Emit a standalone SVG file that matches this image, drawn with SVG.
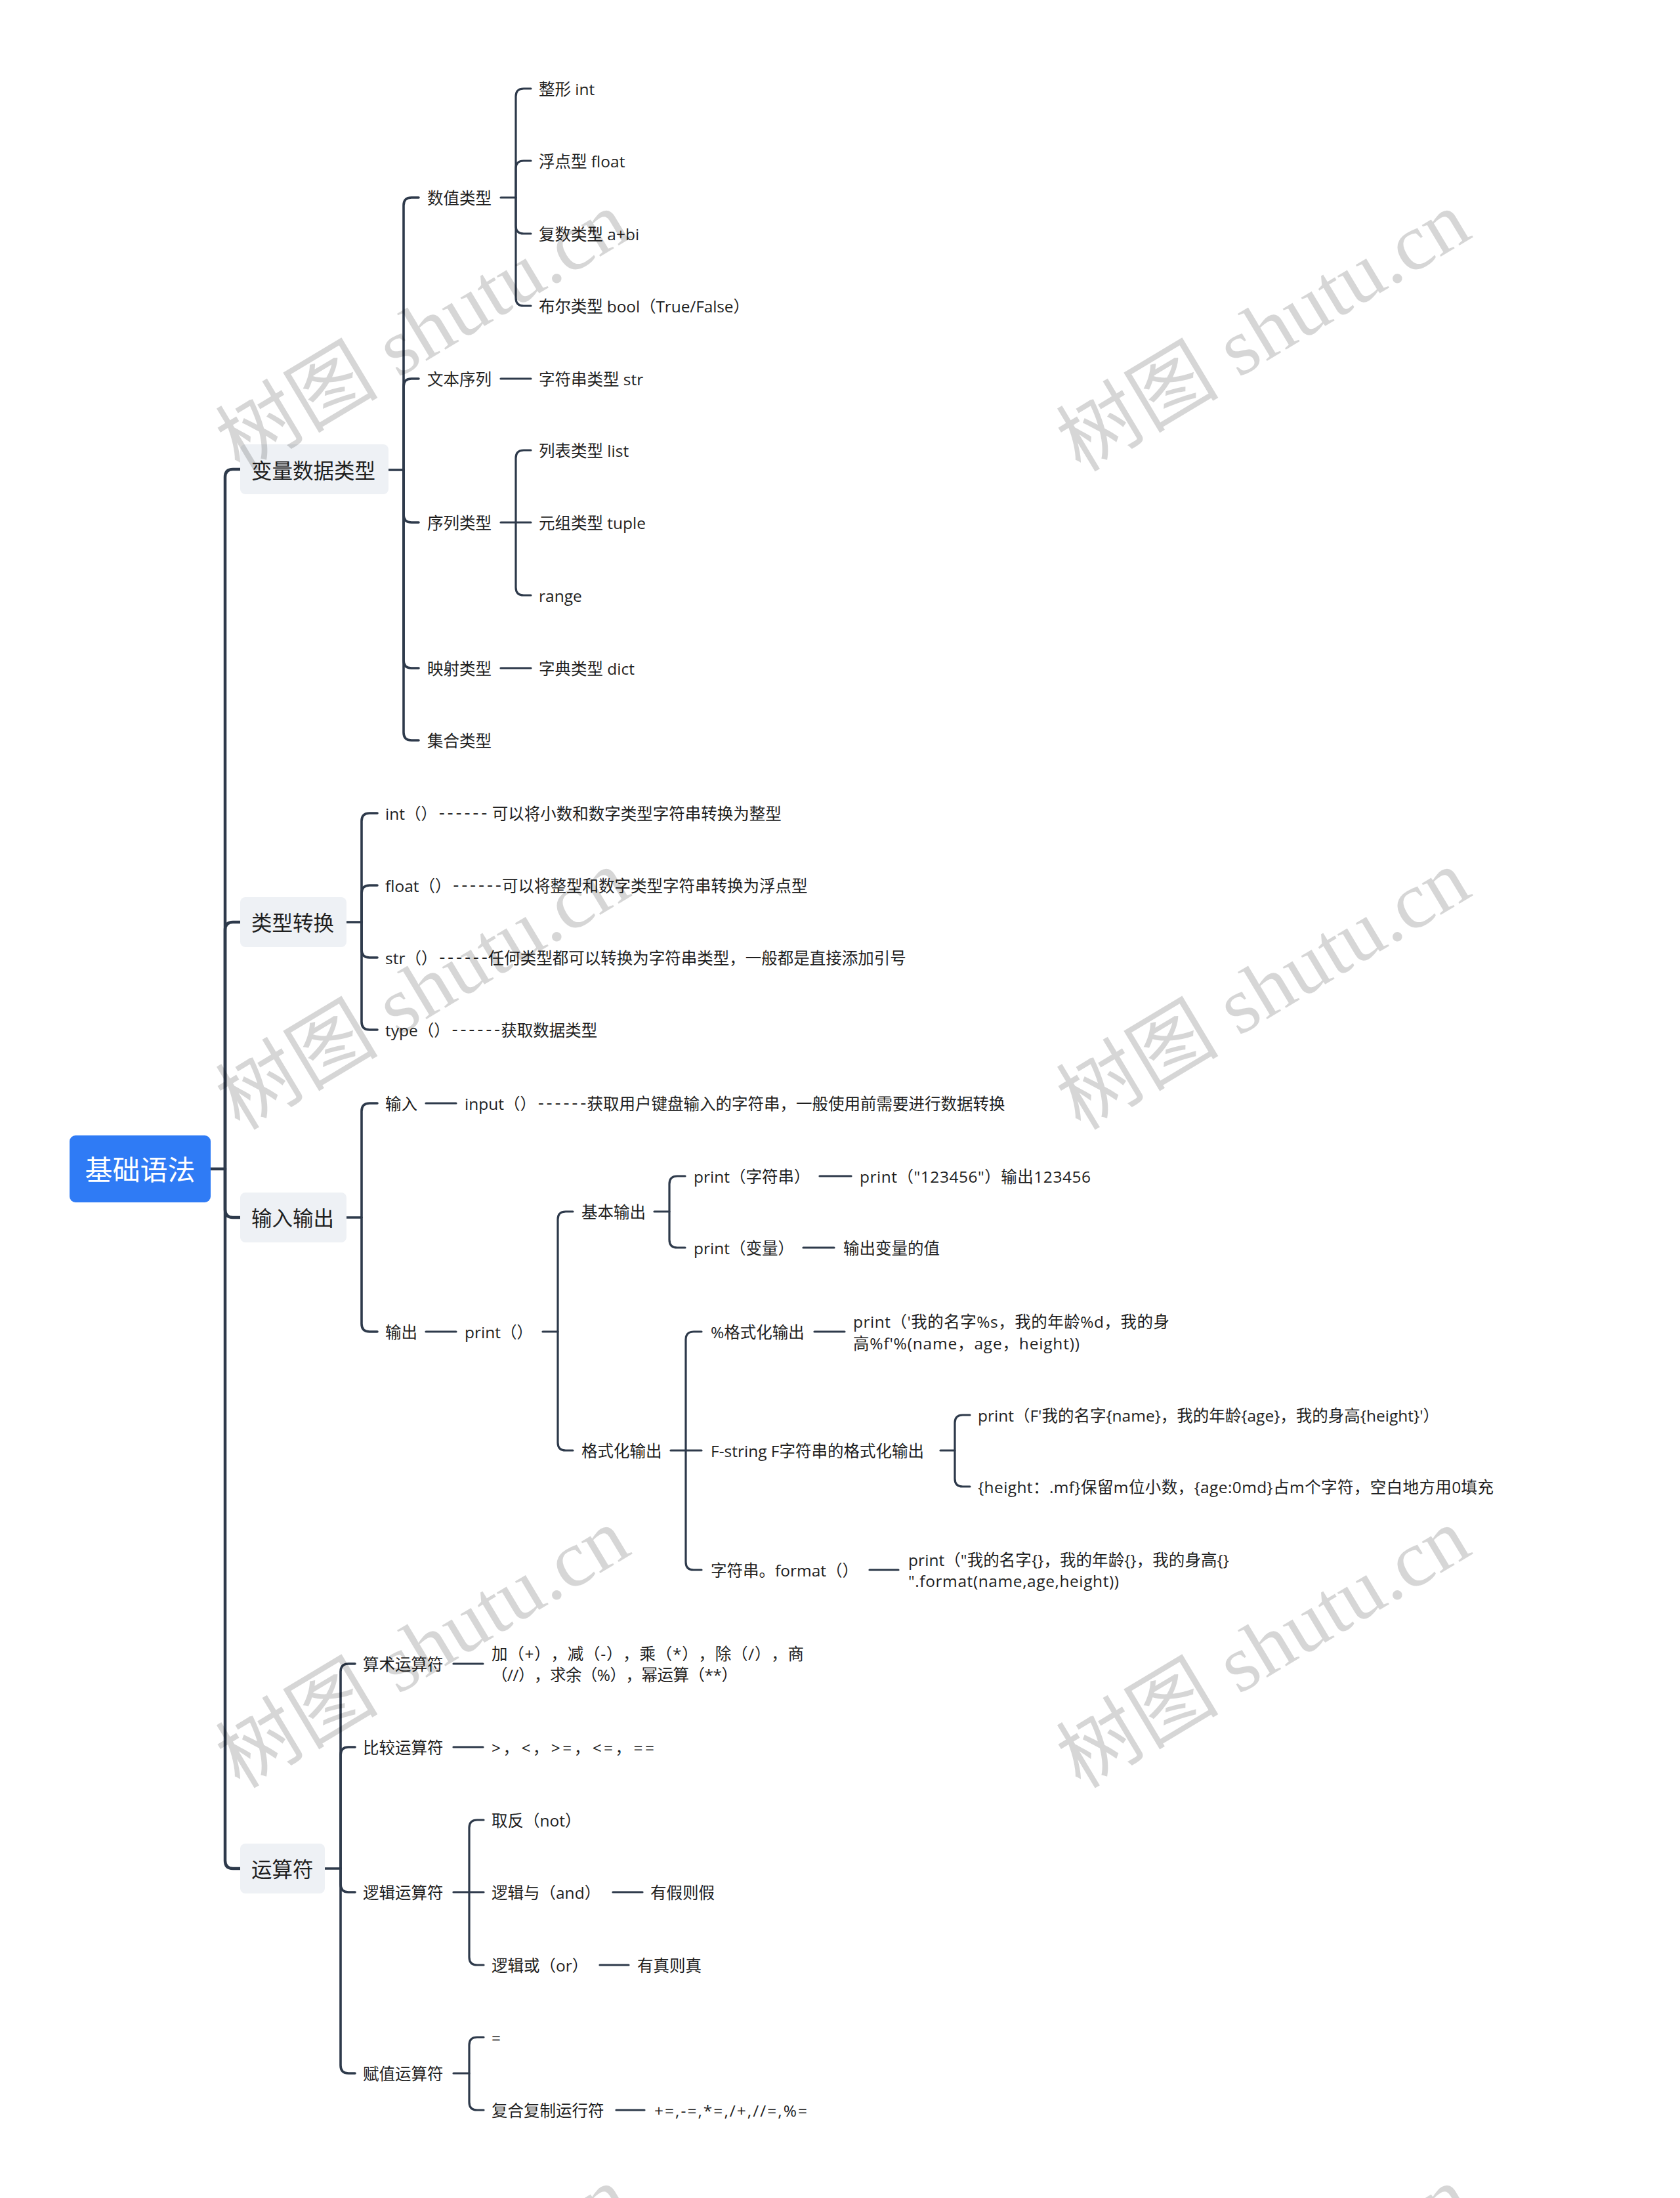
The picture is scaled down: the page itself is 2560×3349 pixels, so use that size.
<svg xmlns="http://www.w3.org/2000/svg" width="2560" height="3349" viewBox="0 0 2560 3349">
<style>
.bg{fill:#ffffff}
.ln{fill:none;stroke:#2e3a4b;stroke-linecap:round;stroke-linejoin:round}
.w1{stroke-width:4.5}
.w2{stroke-width:3.6}
.w3{stroke-width:3.2}
.t{font-family:"Open Sans","Noto Sans CJK SC",sans-serif;font-size:24.5px;fill:#1f1f1f;dominant-baseline:central;text-spacing-trim:space-all}
.l1{font-size:31.5px}
.dash{font-family:"Liberation Mono",monospace;letter-spacing:-1.8px}
.rt{font-family:"Open Sans","Noto Sans CJK SC",sans-serif;font-size:42px;fill:#ffffff;dominant-baseline:central;text-anchor:middle}
.box1{fill:#eef1f5}
.rootbox{fill:#2f7bf5}
.wm{font-family:"Liberation Serif","Noto Sans CJK SC",serif;font-size:122px;fill:#000000;fill-opacity:0.16;text-anchor:middle;dominant-baseline:central}
</style>
<rect class="bg" x="0" y="0" width="2560" height="3349"/>

<g id="connectors">
<g class="ln w1">
<path d="M321,1781 H343 V727 Q343,715 355,715 H366"/>
<path d="M343,1781 V1417 Q343,1405 355,1405 H366"/>
<path d="M343,1781 V1843 Q343,1855 355,1855 H366"/>
<path d="M343,1781 V2835 Q343,2847 355,2847 H366"/>
</g>
<g class="ln w2">
<path d="M592,716 H615 V313 Q615,301 627,301 H638"/>
<path d="M615,716 V589 Q615,577 627,577 H638"/>
<path d="M615,716 V784 Q615,796 627,796 H638"/>
<path d="M615,716 V1006 Q615,1018 627,1018 H638"/>
<path d="M615,716 V1116 Q615,1128 627,1128 H638"/>
<path d="M528,1405 H551 V1251 Q551,1239 563,1239 H575"/>
<path d="M551,1405 V1361 Q551,1349 563,1349 H575"/>
<path d="M551,1405 V1447 Q551,1459 563,1459 H575"/>
<path d="M551,1405 V1557 Q551,1569 563,1569 H575"/>
<path d="M528,1855 H551 V1693 Q551,1681 563,1681 H575"/>
<path d="M551,1855 V2017 Q551,2029 563,2029 H575"/>
<path d="M495,2847 H519 V2547 Q519,2535 531,2535 H541"/>
<path d="M519,2847 V2674 Q519,2662 531,2662 H541"/>
<path d="M519,2847 V2871 Q519,2883 531,2883 H541"/>
<path d="M519,2847 V3147 Q519,3159 531,3159 H541"/>
</g>
<g class="ln w3">
<path d="M763,301 H786 V147 Q786,135 798,135 H809"/>
<path d="M786,301 V257 Q786,245 798,245 H809"/>
<path d="M786,301 V344 Q786,356 798,356 H809"/>
<path d="M786,301 V454 Q786,466 798,466 H809"/>
<path d="M763,577 H809"/>
<path d="M763,796 H809"/>
<path d="M786,796 V698 Q786,686 798,686 H809"/>
<path d="M786,796 V895 Q786,907 798,907 H809"/>
<path d="M763,1018 H809"/>
<path d="M649,1681 H695"/>
<path d="M649,2029 H695"/>
<path d="M827,2029 H850 V1858 Q850,1846 862,1846 H873"/>
<path d="M850,2029 V2198 Q850,2210 862,2210 H873"/>
<path d="M997,1846 H1020 V1804 Q1020,1792 1032,1792 H1044"/>
<path d="M1020,1846 V1889 Q1020,1901 1032,1901 H1044"/>
<path d="M1249,1792 H1297"/>
<path d="M1224,1901 H1271"/>
<path d="M1022,2210 H1069"/>
<path d="M1045,2210 V2041 Q1045,2029 1057,2029 H1069"/>
<path d="M1045,2210 V2380 Q1045,2392 1057,2392 H1069"/>
<path d="M1241,2029 H1287"/>
<path d="M1433,2210 H1455 V2168 Q1455,2156 1467,2156 H1478"/>
<path d="M1455,2210 V2253 Q1455,2265 1467,2265 H1478"/>
<path d="M1325,2392 H1369"/>
<path d="M691,2535 H736"/>
<path d="M691,2662 H736"/>
<path d="M691,2883 H737"/>
<path d="M715,2883 V2785 Q715,2773 727,2773 H737"/>
<path d="M715,2883 V2982 Q715,2994 727,2994 H737"/>
<path d="M934,2883 H979"/>
<path d="M914,2994 H958"/>
<path d="M691,3159 H715 V3116 Q715,3104 727,3104 H737"/>
<path d="M715,3159 V3203 Q715,3215 727,3215 H737"/>
<path d="M939,3215 H982"/>
</g>
</g>

<g id="root"><rect class="rootbox" x="106" y="1730" width="215" height="102" rx="9"/><text class="rt" x="213.5" y="1781">基础语法</text></g>

<g id="n-bianliang"><rect class="box1" x="366" y="677" width="226" height="76" rx="8"/><text class="t l1" x="383" y="716">变量数据类型</text></g>
<g id="n-leixingzhuanhuan"><rect class="box1" x="366" y="1367" width="162" height="76" rx="8"/><text class="t l1" x="383" y="1405">类型转换</text></g>
<g id="n-shurushuchu"><rect class="box1" x="366" y="1817" width="162" height="76" rx="8"/><text class="t l1" x="383" y="1855">输入输出</text></g>
<g id="n-yunsuanfu"><rect class="box1" x="366" y="2809" width="129" height="76" rx="8"/><text class="t l1" x="383" y="2847">运算符</text></g>

<g id="n-shuzhi"><text class="t" x="651" y="301">数值类型</text></g>
<g id="n-int"><text class="t" x="821" y="135">整形 int</text></g>
<g id="n-float"><text class="t" x="821" y="245">浮点型 float</text></g>
<g id="n-complex"><text class="t" x="821" y="356">复数类型 a+bi</text></g>
<g id="n-bool"><text class="t" x="821" y="466" textLength="321">布尔类型 bool（True/False）</text></g>
<g id="n-wenben"><text class="t" x="651" y="577">文本序列</text></g>
<g id="n-str"><text class="t" x="821" y="577">字符串类型 str</text></g>
<g id="n-xulie"><text class="t" x="651" y="796">序列类型</text></g>
<g id="n-list"><text class="t" x="821" y="686">列表类型 list</text></g>
<g id="n-tuple"><text class="t" x="821" y="796">元组类型 tuple</text></g>
<g id="n-range"><text class="t" x="821" y="907">range</text></g>
<g id="n-yingshe"><text class="t" x="651" y="1018">映射类型</text></g>
<g id="n-dict"><text class="t" x="821" y="1018">字典类型 dict</text></g>
<g id="n-jihe"><text class="t" x="651" y="1128">集合类型</text></g>

<g id="n-intfn"><text class="t" x="587" y="1239">int（）<tspan class="dash">------</tspan> 可以将小数和数字类型字符串转换为整型</text></g>
<g id="n-floatfn"><text class="t" x="587" y="1349">float（）<tspan class="dash">------</tspan>可以将整型和数字类型字符串转换为浮点型</text></g>
<g id="n-strfn"><text class="t" x="587" y="1459">str（）<tspan class="dash">------</tspan>任何类型都可以转换为字符串类型，一般都是直接添加引号</text></g>
<g id="n-typefn"><text class="t" x="587" y="1569">type（）<tspan class="dash">------</tspan>获取数据类型</text></g>

<g id="n-shuru"><text class="t" x="587" y="1681">输入</text></g>
<g id="n-input"><text class="t" x="708" y="1681">input（）<tspan class="dash">------</tspan>获取用户键盘输入的字符串，一般使用前需要进行数据转换</text></g>
<g id="n-shuchu"><text class="t" x="587" y="2029">输出</text></g>
<g id="n-print"><text class="t" x="708" y="2029">print（）</text></g>
<g id="n-jiben"><text class="t" x="886" y="1846">基本输出</text></g>
<g id="n-printstr"><text class="t" x="1057" y="1792">print（字符串）</text></g>
<g id="n-print123"><text class="t" x="1310" y="1792" textLength="352">print（"123456"）输出123456</text></g>
<g id="n-printvar"><text class="t" x="1057" y="1901">print（变量）</text></g>
<g id="n-outval"><text class="t" x="1285" y="1901">输出变量的值</text></g>
<g id="n-geshihua"><text class="t" x="886" y="2210">格式化输出</text></g>
<g id="n-percent"><text class="t" x="1083" y="2029">%格式化输出</text></g>
<g id="n-percentex"><text class="t" x="1300" y="2013" textLength="482">print（'我的名字%s，我的年龄%d，我的身</text><text class="t" x="1300" y="2046" textLength="345">高%f'%(name，age，height))</text></g>
<g id="n-fstring"><text class="t" x="1083" y="2210">F-string F字符串的格式化输出</text></g>
<g id="n-fex1"><text class="t" x="1490" y="2156" textLength="703">print（F'我的名字{name}，我的年龄{age}，我的身高{height}'）</text></g>
<g id="n-fex2"><text class="t" x="1490" y="2265" textLength="786">{height：.mf}保留m位小数，{age:0md}占m个字符，空白地方用0填充</text></g>
<g id="n-format"><text class="t" x="1083" y="2392">字符串。format（）</text></g>
<g id="n-formatex"><text class="t" x="1384" y="2376" textLength="489">print（"我的名字{}，我的年龄{}，我的身高{}</text><text class="t" x="1384" y="2408" textLength="321">".format(name,age,height))</text></g>

<g id="n-suanshu"><text class="t" x="553" y="2535">算术运算符</text></g>
<g id="n-suanshuex"><text class="t" x="749" y="2519" textLength="476">加（+），减（-），乘（*），除（/），商</text><text class="t" x="749" y="2551" textLength="375">（//），求余（%），幂运算（**）</text></g>
<g id="n-bijiao"><text class="t" x="553" y="2662">比较运算符</text></g>
<g id="n-bijiaoex"><text class="t" x="749" y="2662" textLength="248">&gt;，&lt;，&gt;=，&lt;=，==</text></g>
<g id="n-luoji"><text class="t" x="553" y="2883">逻辑运算符</text></g>
<g id="n-not"><text class="t" x="749" y="2773">取反（not）</text></g>
<g id="n-and"><text class="t" x="749" y="2883">逻辑与（and）</text></g>
<g id="n-andex"><text class="t" x="991" y="2883">有假则假</text></g>
<g id="n-or"><text class="t" x="749" y="2994">逻辑或（or）</text></g>
<g id="n-orex"><text class="t" x="971" y="2994">有真则真</text></g>
<g id="n-fuzhi"><text class="t" x="553" y="3159">赋值运算符</text></g>
<g id="n-eq"><text class="t" x="749" y="3104">=</text></g>
<g id="n-fuhe"><text class="t" x="749" y="3215">复合复制运行符</text></g>
<g id="n-fuheex"><text class="t" x="997" y="3215" textLength="233">+=,-=,*=,/+,//=,%=</text></g>

<g id="watermarks">
<text class="wm" transform="translate(644,505) rotate(-31)" textLength="700" lengthAdjust="spacingAndGlyphs">树图 shutu.cn</text>
<text class="wm" transform="translate(1925,505) rotate(-31)" textLength="700" lengthAdjust="spacingAndGlyphs">树图 shutu.cn</text>
<text class="wm" transform="translate(644,1508) rotate(-31)" textLength="700" lengthAdjust="spacingAndGlyphs">树图 shutu.cn</text>
<text class="wm" transform="translate(1925,1508) rotate(-31)" textLength="700" lengthAdjust="spacingAndGlyphs">树图 shutu.cn</text>
<text class="wm" transform="translate(644,2511) rotate(-31)" textLength="700" lengthAdjust="spacingAndGlyphs">树图 shutu.cn</text>
<text class="wm" transform="translate(1925,2511) rotate(-31)" textLength="700" lengthAdjust="spacingAndGlyphs">树图 shutu.cn</text>
<text class="wm" transform="translate(644,3514) rotate(-31)" textLength="700" lengthAdjust="spacingAndGlyphs">树图 shutu.cn</text>
<text class="wm" transform="translate(1925,3514) rotate(-31)" textLength="700" lengthAdjust="spacingAndGlyphs">树图 shutu.cn</text>
</g>
</svg>
